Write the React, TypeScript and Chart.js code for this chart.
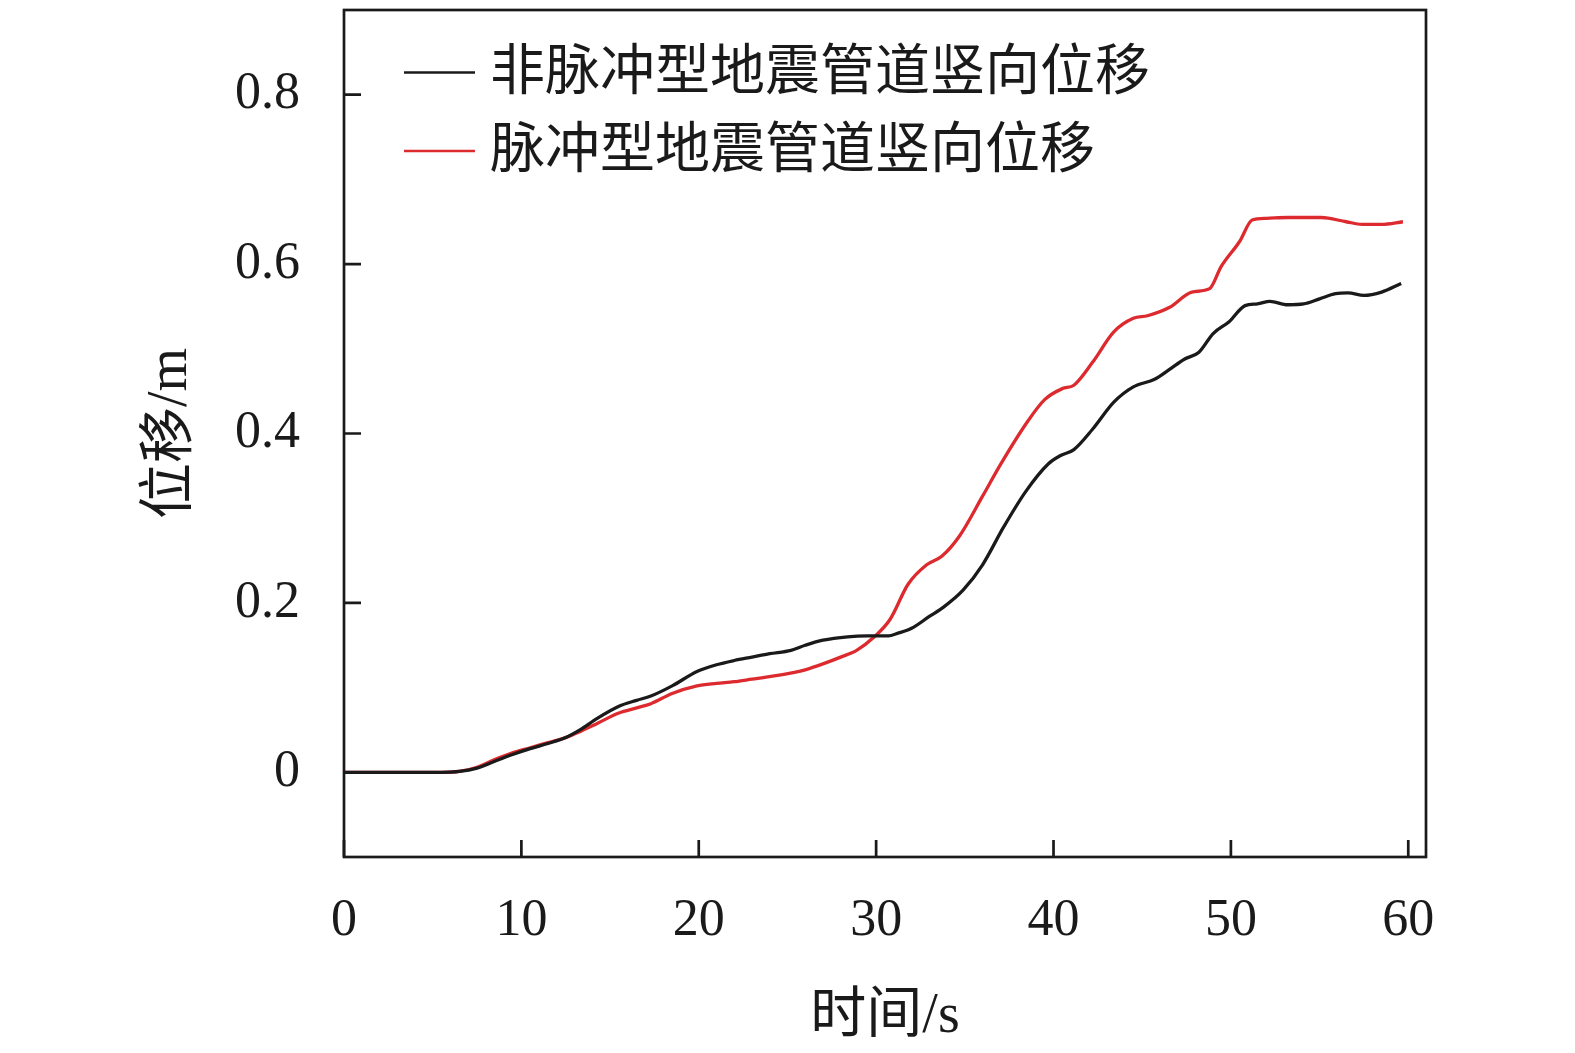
import { useEffect, useRef } from "react";
import { Chart, registerables, type ChartConfiguration, type Plugin, type Scale } from "chart.js";

Chart.register(...registerables);

// 时间 (s) 与竖向位移 (m)，从原图逐点读取
const TIME_NON_PULSE = [
  0, 5.5, 6.5, 7.5, 8.5, 9.5, 10.5, 11.5, 12.5, 13.3, 14.3, 15.5, 16.5, 17.3, 18.5, 19.9,
  21, 22, 23, 24, 25.2, 26, 27, 28.4, 29.5, 30.7, 31.2, 32, 33, 33.8, 34.9, 36, 37.2, 38.45,
  39.7, 40.4, 41.15, 42.2, 43.4, 44.5, 45.7, 46.5, 47.4, 48.2, 49, 49.9, 50.8, 51.5, 52.2,
  53.2, 54.1, 55, 55.9, 56.6, 57.5, 58.5, 59.6,
];
const DISP_NON_PULSE = [
  0, 0, 0.001, 0.005, 0.013, 0.021, 0.028, 0.034, 0.041, 0.05, 0.064, 0.078, 0.085, 0.09, 0.102, 0.119,
  0.127, 0.132, 0.136, 0.14, 0.144, 0.15, 0.156, 0.16, 0.161, 0.161, 0.164, 0.17, 0.184, 0.195, 0.215, 0.245, 0.29, 0.332,
  0.364, 0.374, 0.381, 0.405, 0.437, 0.455, 0.464, 0.475, 0.488, 0.496, 0.518, 0.532, 0.551, 0.553, 0.556,
  0.552, 0.553, 0.559, 0.565, 0.566, 0.563, 0.567, 0.577,
];

const TIME_PULSE = [
  0, 5.5, 6.5, 7.5, 8.5, 9.5, 10.5, 11.5, 12.5, 13.3, 14.3, 15.5, 16.5, 17.3, 18.5, 19.9,
  21, 22, 23, 24, 25.4, 26, 27, 28, 28.9, 29.9, 30.8, 31.8, 32.85, 33.7, 34.7, 36, 37, 38.5,
  39.5, 40.5, 41.15, 42.2, 43.4, 44.5, 45.3, 46.55, 47.8, 48.8, 49.45, 50.5, 51.2, 52, 53.2,
  55.1, 56.5, 57.4, 58.5, 59.7,
];
const DISP_PULSE = [
  0, 0, 0.001, 0.006, 0.015, 0.023, 0.029, 0.035, 0.041, 0.048, 0.058, 0.07, 0.076, 0.081, 0.093, 0.102,
  0.105, 0.107, 0.11, 0.113, 0.118, 0.121, 0.128, 0.136, 0.144, 0.16, 0.181, 0.222, 0.245, 0.255, 0.279, 0.326, 0.363, 0.413,
  0.44, 0.453, 0.457, 0.484, 0.52, 0.536, 0.539, 0.549, 0.567, 0.571, 0.597, 0.627, 0.652, 0.654, 0.655,
  0.655, 0.65, 0.647, 0.647, 0.65,
];

const X_TICKS = [0, 10, 20, 30, 40, 50, 60];
const Y_TICKS = [0, 0.2, 0.4, 0.6, 0.8];

const SERIF = "'Liberation Serif', 'Noto Sans CJK SC', serif";
const INK = "#1a1a1a";
const RED = "#dc2a2e";

// 不让标签溢出量挤占绘图区，绘图区由 layout.padding 定死
function noScalePadding(s: Scale) {
  s.paddingTop = 0;
  s.paddingBottom = 0;
  s.paddingLeft = 0;
  s.paddingRight = 0;
}

// 图框 + 向内刻度 + 图内图例
const framePlugin: Plugin<"line"> = {
  id: "frame",
  afterDraw(chart) {
    const { ctx, chartArea: a, scales } = chart;
    ctx.save();
    ctx.strokeStyle = INK;
    ctx.lineWidth = 2.7;
    ctx.strokeRect(a.left, a.top, a.right - a.left, a.bottom - a.top);
    const tick = 17;
    ctx.beginPath();
    for (const v of Y_TICKS) {
      const y = scales.y.getPixelForValue(v);
      ctx.moveTo(a.left, y);
      ctx.lineTo(a.left + tick, y);
    }
    for (const v of X_TICKS) {
      const x = scales.x.getPixelForValue(v);
      ctx.moveTo(x, a.bottom);
      ctx.lineTo(x, a.bottom - tick);
    }
    ctx.stroke();

    // 图例
    ctx.font = `55px ${SERIF}`;
    ctx.textBaseline = "middle";
    ctx.textAlign = "left";
    chart.data.datasets.forEach((ds, i) => {
      const y = 72.5 + i * 78.5;
      ctx.strokeStyle = ds.borderColor as string;
      ctx.lineWidth = 2.7;
      ctx.beginPath();
      ctx.moveTo(404, y);
      ctx.lineTo(475, y);
      ctx.stroke();
      ctx.fillStyle = INK;
      ctx.fillText(ds.label ?? "", 490, y + 2);
    });
    ctx.restore();
  },
};

export default function App() {
  const canvasRef = useRef<HTMLCanvasElement>(null);

  useEffect(() => {
    document.body.style.margin = "0";
    const canvas = canvasRef.current;
    if (!canvas) return;

    const config: ChartConfiguration<"line"> = {
      type: "line",
      data: {
        datasets: [
          {
            label: "非脉冲型地震管道竖向位移",
            data: TIME_NON_PULSE.map((t, i) => ({ x: t, y: DISP_NON_PULSE[i] })),
            borderColor: INK,
            borderWidth: 3.3,
            pointRadius: 0,
            cubicInterpolationMode: "monotone",
          },
          {
            label: "脉冲型地震管道竖向位移",
            data: TIME_PULSE.map((t, i) => ({ x: t, y: DISP_PULSE[i] })),
            borderColor: RED,
            borderWidth: 3.3,
            pointRadius: 0,
            cubicInterpolationMode: "monotone",
          },
        ],
      },
      options: {
        responsive: false,
        animation: false,
        devicePixelRatio: 1,
        layout: { padding: { top: 10, right: 149, left: 0, bottom: 0 } },
        plugins: { legend: { display: false }, tooltip: { enabled: false } },
        scales: {
          x: {
            type: "linear",
            min: 0,
            max: 61,
            grid: { display: false, drawTicks: false },
            border: { display: false },
            afterBuildTicks: (s) => {
              s.ticks = X_TICKS.map((v) => ({ value: v }));
            },
            afterFit: (s) => {
              s.height = 196;
              noScalePadding(s);
            },
            ticks: {
              color: INK,
              padding: 33,
              maxRotation: 0,
              font: { family: SERIF, size: 52 },
              callback: (v) => String(v),
            },
            title: {
              display: true,
              text: "时间/s",
              color: INK,
              font: { family: SERIF, size: 56 },
              padding: { top: 0, bottom: 2 },
            },
          },
          y: {
            type: "linear",
            min: -0.1,
            max: 0.9,
            grid: { display: false, drawTicks: false },
            border: { display: false },
            afterBuildTicks: (s) => {
              s.ticks = Y_TICKS.map((v) => ({ value: v }));
            },
            afterFit: (s) => {
              s.width = 344;
              noScalePadding(s);
            },
            ticks: {
              color: INK,
              padding: 44,
              font: { family: SERIF, size: 52 },
              callback: (v) => String(v),
            },
            title: {
              display: true,
              text: "位移/m",
              color: INK,
              font: { family: SERIF, size: 56 },
              padding: { top: 138, bottom: 0 },
            },
          },
        },
      },
      plugins: [framePlugin],
    };

    const chart = new Chart(canvas, config);
    return () => chart.destroy();
  }, []);

  return (
    <div style={{ width: 1575, height: 1053, background: "#fff", overflow: "hidden" }}>
      <canvas ref={canvasRef} width={1575} height={1053} style={{ display: "block" }}></canvas>
    </div>
  );
}
